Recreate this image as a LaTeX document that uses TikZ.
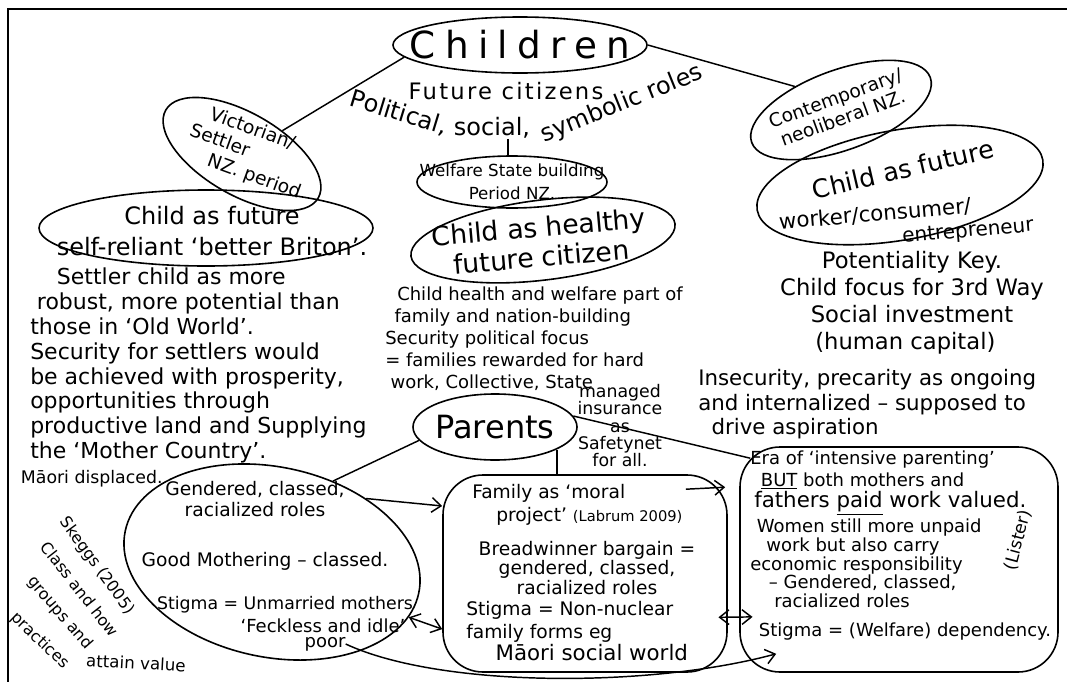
\documentclass[tikz,border=0pt]{standalone}
\usepackage{fontspec}
\setmainfont{DejaVu Sans}
\usetikzlibrary{arrows.meta,calc,fit,shapes.geometric}
\newcommand{\handsize}[2]{\fontsize{#1}{#2}\selectfont}

\begin{document}
\begin{tikzpicture}[x=0.75pt,y=-0.75pt,
    oval/.style={ellipse,draw,line width=1.2pt,inner sep=0pt},
    blob/.style={draw,rounded corners=30pt,line width=1.2pt,inner sep=0pt},
    link/.style={line width=1.1pt},
    note/.style={inner sep=0pt,align=center},
    >={Straight Barb[length=7pt,width=11pt]}]
  \useasboundingbox (0,0) rectangle (1067,682);
  % frame
  \draw[line width=2pt] (1067,9) -- (8,9) -- (8,682);

  % children
  \node[oval,minimum width=190.5pt,minimum height=42pt] (children) at (520,45) {};
  \node[note,font={\handsize{28}{30}\addfontfeature{LetterSpace=25}}] (childlbl) at (children) {Children};
  \node[note,font={\handsize{17}{20}\addfontfeature{LetterSpace=10}}] (future) at (506,91) {Future citizens};
  \node[note,rotate=-17,font={\handsize{18}{22}}] (polit) at (399,113) {Political,};
  \node[note,font={\handsize{18}{22}}] (social) at (492,128) {social,};
  \node[note,rotate=22,font={\handsize{18}{22}}] (symb) at (622,104) {symbolic roles};

  % victorian settler period
  \node[oval,rotate=-30,minimum width=132pt,minimum height=61.5pt] (victorian) at (242,154) {};
  \node[note,align=left,rotate=-20,font={\handsize{14}{16.5}}] (victlbl) at (249,152) {\hspace*{10pt}Victorian/\\Settler\\\hspace*{20pt}NZ.\ period};
  \node[oval,minimum width=250.5pt,minimum height=57pt] (selfrel) at (206,228) {};
  \node[note,font={\handsize{18}{23}}] (selflbl) at (212,231) {Child as future\\self-reliant ‘better Briton’.};
  \node[note,align=left,anchor=north west,font={\handsize{16.5}{18.6}}] (settler) at (30,268) {\hspace*{20pt}Settler child as more\\\hspace*{5pt}robust, more potential than\\those in ‘Old World’.\\Security for settlers would\\be achieved with prosperity,\\opportunities through\\productive land and Supplying\\the ‘Mother Country’.\\\hspace*{-7pt}{\handsize{13}{18.6}Māori displaced.}};

  % welfare state period
  \node[oval,minimum width=142.5pt,minimum height=39pt] (welfare) at (512,182) {};
  \node[note,font={\handsize{12.5}{17}}] (welflbl) at (512,182) {Welfare State building\\Period NZ.};
  \node[oval,rotate=7,minimum width=199.5pt,minimum height=60pt] (healthy) at (543,240) {};
  \node[note,rotate=5,font={\handsize{20}{22.5}}] (healthylbl) at (540,242) {Child as healthy\\future citizen};
  \node[note,align=left,anchor=north west,font={\handsize{13.5}{16.5}}] (nation) at (385,287) {\hspace*{9pt}Child health and welfare part of\\\hspace*{7pt}family and nation-building\\Security political focus\\= families rewarded for hard\\\hspace*{4pt}work, Collective, State};
  \node[note,anchor=north,font={\handsize{13}{13}}] (insure) at (620,384) {managed\\insurance\\as\\Safetynet\\for all.};

  % neoliberal period
  \node[oval,rotate=20,minimum width=142.5pt,minimum height=60pt] (contemp) at (841,110) {};
  \node[note,rotate=20,font={\handsize{14}{16}}] (contlbl) at (839,108) {Contemporary/\\neoliberal NZ.};
  \node[oval,rotate=10,minimum width=217.5pt,minimum height=82.5pt] (worker) at (900,185) {};
  \node[note,rotate=13,font={\handsize{19}{20}}] (futlbl) at (903,169) {Child as future};
  \node[note,rotate=5,font={\handsize{16}{18}}] (worklbl) at (875,214) {worker/consumer/};
  \node[note,rotate=5,font={\handsize{15}{16}}] (entrelbl) at (968,232) {entrepreneur};
  \node[note,font={\handsize{17}{20.3}}] (potent) at (912,303) {Potentiality Key.\\Child focus for 3rd Way\\Social investment\hspace*{36pt}\\(human capital)\hspace*{10pt}};
  \node[note,align=left,anchor=north west,font={\handsize{16}{18.4}}] (insec) at (698,369) {Insecurity, precarity as ongoing\\and internalized – supposed to\\\hspace*{10pt}drive aspiration};

  \draw[link] (children.186) -- (victorian.60);
  \draw[link] (children.east) -- (contemp.133);
  \draw[link] ([xshift=12pt]social.south) -- ([xshift=12pt]social.south |- welfare.north);

  % parents
  \node[oval,minimum width=123pt,minimum height=49.5pt] (parents) at (495,427) {};
  \node[note,font={\handsize{24}{26}}] (parentslbl) at (parents) {Parents};

  \node[oval,rotate=-12,minimum width=225pt,minimum height=142.5pt] (gendered) at (272,562) {};
  \node[note,font={\handsize{14}{16}}] (genroles) at (255,499) {Gendered, classed,\\racialized roles};
  \node[note,font={\handsize{14}{16}}] (mothering) at (265,561) {Good Mothering – classed.};
  \node[note,font={\handsize{13}{16}}] (unmarried) at (285,605) {Stigma = Unmarried mothers};
  \node[note,font={\handsize{13.5}{16}}] (feckless) at (323,626) {‘Feckless and idle’};
  \node[note,font={\handsize{13.5}{16}}] (poor) at (325,644) {poor};

  \node[blob,fit={(443,475) (727,672)}] (family) {};
  \node[note,align=left,anchor=north west,font={\handsize{14}{17}}] (moral) at (472,484) {Family as ‘moral\\\hspace*{18pt}project’ {\handsize{11}{12}(Labrum 2009)}};
  \node[note,font={\handsize{14}{14.5}}] (bargain) at (587,568) {Breadwinner bargain =\\gendered, classed,\\racialized roles};
  \node[note,align=left,anchor=north west,font={\handsize{14}{17}}] (nonnuc) at (466,601) {Stigma = Non-nuclear\\family forms eg\\\hspace*{22pt}{\handsize{16}{17}Māori social world}};

  \node[blob,fit={(740,447) (1058,672)}] (era) {};
  \node[note,align=left,anchor=north west,font={\handsize{13.5}{16}}] (intensive) at (750,451) {Era of ‘intensive parenting’\\\hspace*{8pt}\underline{BUT} both mothers and\\\hspace*{3pt}{\handsize{16}{16}fathers \underline{paid} work valued.}};
  \node[note,align=left,anchor=north west,font={\handsize{13.5}{14}}] (unpaid) at (750,519) {\hspace*{5pt}Women still more unpaid\\\hspace*{12pt}work but also carry\\economic responsibility\\\hspace*{14pt}– Gendered, classed,\\\hspace*{18pt}racialized roles};
  \node[note,font={\handsize{13.5}{15}}] (depend) at (905,632) {Stigma = (Welfare) dependency.};
  \node[note,rotate=75,font={\handsize{13}{14}}] (lister) at (1018,540) {(Lister)};

  % skeggs
  \node[note,rotate=-54,font={\handsize{12}{13}}] (skeggs) at (97,566) {Skeggs (2005)};
  \node[note,rotate=-52,font={\handsize{12}{13}}] (classhow) at (80,589) {Class and how};
  \node[note,rotate=-49,font={\handsize{12}{13}}] (groups) at (60,613) {groups and};
  \node[note,rotate=-44,font={\handsize{12}{13}}] (practices) at (40,641) {practices};
  \node[note,rotate=-3,font={\handsize{12.5}{14}}] (attain) at (136,663) {attain value};

  \draw[link] (parents.190) -- (gendered.65);
  \draw[link] (parents.-20) -- (parents.-20 |- family.north);
  \draw[link] (parents.8) -- ($(era.north west)+(11,12)$);

  \draw[link,->] (gendered.46) -- ($(family.north west)!0.16!(family.south west)$);
  \draw[link,->] ($(family.north east)+(-42,15)$) -- ($(era.north west)+(-14,41)$);
  \draw[link,<->] (gendered.-10) -- ($(family.north west)!0.78!(family.south west)$);
  \draw[link,<->,shorten <=-7pt,shorten >=-10pt] ($(family.north east)!0.72!(family.south east)$) -- ($(era.north west)!0.754!(era.south west)$);
  \draw[link,->] (poor.east) .. controls (440,688) and (650,688) .. ($(era.south west)+(37,-19)$);
\end{tikzpicture}
\end{document}
